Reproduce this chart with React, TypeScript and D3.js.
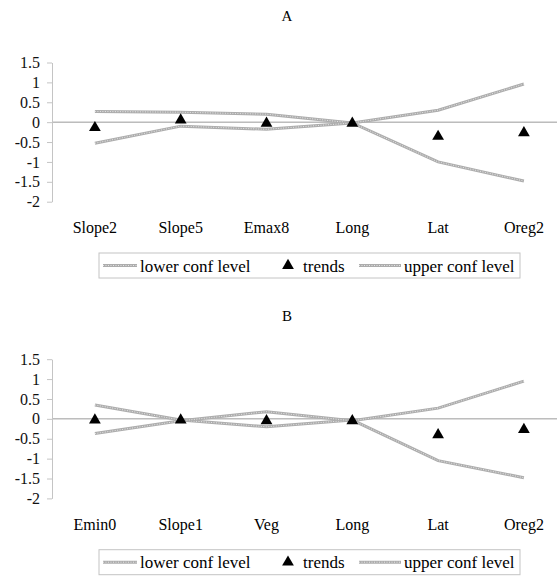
import * as React from 'react';
import * as d3 from 'd3';
import {useEffect, useRef} from 'react';

// panel A
const categoriesA = ['Slope2', 'Slope5', 'Emax8', 'Long', 'Lat', 'Oreg2'];
const lowerA = [0.27, 0.25, 0.2, -0.02, -1.0, -1.48];
const upperA = [-0.53, -0.1, -0.18, -0.02, 0.3, 0.96];
const trendsA = [-0.14, 0.05, -0.03, -0.03, -0.36, -0.27];

// panel B
const categoriesB = ['Emin0', 'Slope1', 'Veg', 'Long', 'Lat', 'Oreg2'];
const lowerB = [0.35, -0.03, -0.2, -0.03, -1.05, -1.48];
const upperB = [-0.37, -0.05, 0.18, -0.05, 0.27, 0.95];
const trendsB = [-0.03, -0.03, -0.05, -0.05, -0.4, -0.27];

const yTicks = [-2, -1.5, -1, -0.5, 0, 0.5, 1, 1.5];
const legendLabels = ['lower conf level', 'trends', 'upper conf level'];

const FONT = 'Liberation Serif, DejaVu Serif, serif';
const W = 557;
const H = 576;

interface IPanel {
    title: string;
    categories: string[];
    lower: number[];
    upper: number[];
    trends: number[];
    top: number;
    titleY: number;
}

const panels: IPanel[] = [
    {title: 'A', categories: categoriesA, lower: lowerA, upper: upperA, trends: trendsA, top: 0, titleY: 21},
    {title: 'B', categories: categoriesB, lower: lowerB, upper: upperB, trends: trendsB, top: 296.7, titleY: 321},
];

function drawConfLine(g: any, x1: number, y1: number, x2: number, y2: number) {
    g.append('line').attr('x1', x1).attr('y1', y1).attr('x2', x2).attr('y2', y2)
        .attr('stroke', '#adadad').attr('stroke-width', 3);
    g.append('line').attr('x1', x1).attr('y1', y1).attr('x2', x2).attr('y2', y2)
        .attr('stroke', '#e6e6e6').attr('stroke-width', 1).attr('stroke-dasharray', '1,1.5');
}

function drawPanel(svg: any, p: IPanel) {
    const g = svg.append('g').attr('transform', `translate(0 ${p.top})`);
    const x = d3.scaleBand().domain(p.categories).range([52, 52 + 6 * 85.8]);
    const y = d3.scaleLinear().domain([-2, 1.5]).range([201.7, 62.5]);
    const cx = (c: string) => (x(c) as number) + x.bandwidth() / 2;

    g.append('text').attr('x', 287).attr('y', p.titleY - p.top).attr('text-anchor', 'middle')
        .style('font-family', FONT).style('font-size', '15px').text(p.title);

    // zero line
    g.append('line').attr('x1', 52).attr('x2', W).attr('y1', y(0)).attr('y2', y(0))
        .attr('stroke', '#9a9a9a').attr('stroke-width', 1);

    const axisG = g.append('g').attr('transform', 'translate(52 0)');
    axisG.call(d3.axisLeft(y).tickValues(yTicks).tickSizeInner(5).tickSizeOuter(0).tickPadding(7)
        .tickFormat((d: any) => `${d}`));
    axisG.select('.domain').attr('stroke', '#c4c4c4');
    axisG.selectAll('.tick line').attr('stroke', '#c4c4c4');
    axisG.selectAll('.tick text').style('font-family', FONT).style('font-size', '16px').attr('fill', '#111');

    g.selectAll('.cat').data(p.categories).enter().append('text')
        .attr('x', (d: string) => cx(d)).attr('y', 233).attr('text-anchor', 'middle')
        .style('font-family', FONT).style('font-size', '16px').text((d: string) => d);

    const line = d3.line<number>().x((d, i) => cx(p.categories[i])).y((d) => y(d));
    [p.lower, p.upper].forEach((series) => {
        g.append('path').attr('d', line(series)).attr('fill', 'none')
            .attr('stroke', '#adadad').attr('stroke-width', 3);
        g.append('path').attr('d', line(series)).attr('fill', 'none')
            .attr('stroke', '#e6e6e6').attr('stroke-width', 1).attr('stroke-dasharray', '1,1.5');
    });

    const tri = d3.symbol().type(d3.symbolTriangle).size(60);
    g.selectAll('.trend').data(p.trends).enter().append('path')
        .attr('d', tri() as string)
        .attr('transform', (d: number, i: number) => `translate(${cx(p.categories[i])} ${y(d)})`)
        .attr('fill', '#000');

    // legend
    const lg = g.append('g').attr('transform', 'translate(0 253)');
    lg.append('rect').attr('x', 99).attr('y', 0).attr('width', 421).attr('height', 25)
        .attr('fill', '#fff').attr('stroke', '#c4c4c4');
    drawConfLine(lg, 103, 12.5, 137, 12.5);
    lg.append('text').attr('x', 140).attr('y', 18.5).style('font-family', FONT).style('font-size', '17px').text(legendLabels[0]);
    lg.append('path').attr('d', tri() as string).attr('transform', 'translate(288 12.5)').attr('fill', '#000');
    lg.append('text').attr('x', 303).attr('y', 18.5).style('font-family', FONT).style('font-size', '17px').text(legendLabels[1]);
    drawConfLine(lg, 359, 12.5, 401, 12.5);
    lg.append('text').attr('x', 404).attr('y', 18.5).style('font-family', FONT).style('font-size', '17px').text(legendLabels[2]);
}

export default function App() {
    const svgRef = useRef<SVGSVGElement>(null);

    useEffect(() => {
        const svg = d3.select(svgRef.current);
        svg.selectAll('*').remove();
        panels.forEach((p) => drawPanel(svg, p));
    }, []);

    return (
        <svg ref={svgRef} width={W} height={H} viewBox={`0 0 ${W} ${H}`}
             style={{position: 'absolute', left: 0, top: 0, background: '#fff'}}/>
    );
}
